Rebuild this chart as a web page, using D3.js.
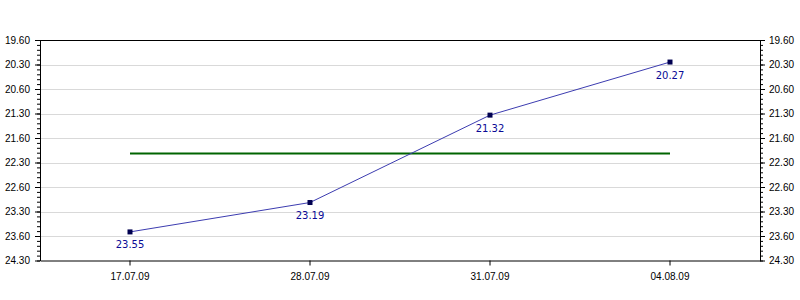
<!DOCTYPE html>
<html><head><meta charset="utf-8">
<script src="https://cdn.jsdelivr.net/npm/d3@7"></script>
<style>
body{margin:0;background:#fff;}
svg{display:block;font-family:"DejaVu Sans",Verdana,sans-serif;}
</style></head>
<body><svg id="c" width="800" height="300"></svg>
<script>
// Values are in "minutes.seconds" notation (m.ss)
const categories = ["17.07.09", "28.07.09", "31.07.09", "04.08.09"];
const values = ["23.55", "23.19", "21.32", "20.27"];
const targetValue = "22.19";
const tickLabels = ["19.60", "20.30", "20.60", "21.30", "21.60", "22.30", "22.60", "23.30", "23.60", "24.30"];

const toMin = s => { const [m, ss] = s.split("."); return +m + (+ss) / 60; };
const tickVals = tickLabels.map(toMin);
const labelFor = new Map(tickVals.map((v, i) => [v, tickLabels[i]]));

const svg = d3.select("#c");
const L = 40, R = 760, T = 40, B = 260.5;

const x = d3.scaleBand().domain(categories).range([L, R]);
const cx = c => x(c) + x.bandwidth() / 2;
const y = d3.scaleLinear().domain([tickVals[0], tickVals[tickVals.length - 1]]).range([T, B]);

// gridlines
svg.append("g").selectAll("line").data(tickVals.slice(1, -1)).join("line")
  .attr("x1", L).attr("x2", R)
  .attr("y1", d => Math.round(y(d)) + 0.5).attr("y2", d => Math.round(y(d)) + 0.5)
  .attr("stroke", "#d9d9d9").attr("stroke-width", 1);

// minor ticks
const minor = d3.range(tickVals[0], tickVals[tickVals.length - 1] + 1e-9, 0.1);
function axisStyle(fs) {
  return g => {
    g.selectAll("path").attr("stroke", "#000");
    g.selectAll("line").attr("stroke", "#000");
    g.selectAll("text").attr("fill", "#000").attr("font-size", fs);
  };
}
svg.append("g").attr("transform", `translate(${L},0)`)
  .call(d3.axisLeft(y).tickValues(minor).tickSize(3).tickFormat("").tickSizeOuter(0))
  .call(g => g.select("path").remove()).call(axisStyle(10));
svg.append("g").attr("transform", `translate(${R},0)`)
  .call(d3.axisRight(y).tickValues(minor).tickSize(3).tickFormat("").tickSizeOuter(0))
  .call(g => g.select("path").remove()).call(axisStyle(10));

// major axes
svg.append("g").attr("transform", `translate(${L},0)`)
  .call(d3.axisLeft(y).tickValues(tickVals).tickSize(5).tickPadding(5)
    .tickFormat(d => labelFor.get(d)).tickSizeOuter(0))
  .call(axisStyle(10));
svg.append("g").attr("transform", `translate(${R},0)`)
  .call(d3.axisRight(y).tickValues(tickVals).tickSize(5).tickPadding(4)
    .tickFormat(d => labelFor.get(d)).tickSizeOuter(0))
  .call(axisStyle(10));

// top border
svg.append("line").attr("x1", L).attr("x2", R).attr("y1", T + 0.5).attr("y2", T + 0.5).attr("stroke", "#000");

// x axis
svg.append("g").attr("transform", `translate(0,${B})`)
  .call(d3.axisBottom(x).tickSize(5).tickPadding(7).tickSizeOuter(0))
  .call(axisStyle(10));

// target line
svg.append("line")
  .attr("x1", cx(categories[0])).attr("x2", cx(categories[categories.length - 1]))
  .attr("y1", y(toMin(targetValue))).attr("y2", y(toMin(targetValue)))
  .attr("stroke", "#006400").attr("stroke-width", 2);

// data
const pts = categories.map((c, i) => ({c, v: values[i], m: toMin(values[i])}));
svg.append("path").datum(pts)
  .attr("d", d3.line().x(d => cx(d.c)).y(d => y(d.m)))
  .attr("fill", "none").attr("stroke", "#3c3cb0").attr("stroke-width", 1);
svg.append("g").selectAll("rect").data(pts).join("rect")
  .attr("x", d => cx(d.c) - 2.5).attr("y", d => y(d.m) - 2.5)
  .attr("width", 5).attr("height", 5).attr("fill", "#000050");
svg.append("g").selectAll("text").data(pts).join("text")
  .attr("x", d => cx(d.c)).attr("y", d => y(d.m) + 16.5)
  .attr("text-anchor", "middle").attr("font-size", 10).attr("fill", "#0a0a96")
  .text(d => d.v);
</script></body></html>
